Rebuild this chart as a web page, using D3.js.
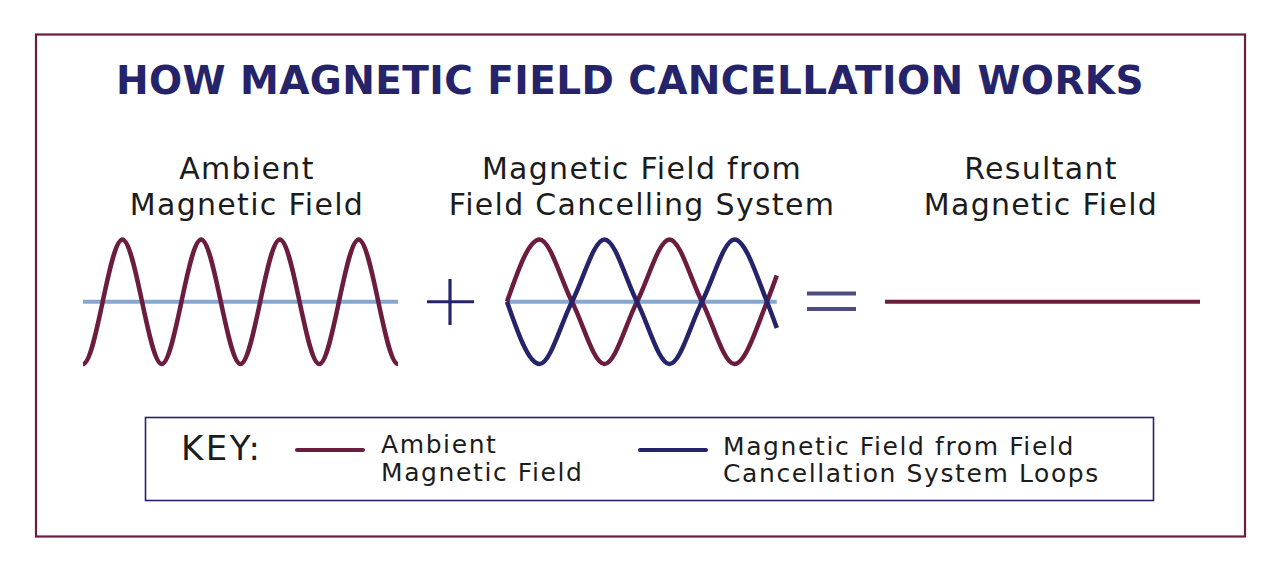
<!DOCTYPE html>
<html>
<head>
<meta charset="utf-8">
<script src="https://cdn.jsdelivr.net/npm/d3@7"></script>
<style>
  html, body { margin: 0; padding: 0; background: #fff; }
  svg { display: block; }
  text { font-family: "DejaVu Sans", "Noto Sans", sans-serif; fill: #1c1c1c; }
</style>
</head>
<body>
<svg id="chart" width="1280" height="579"></svg>
<script>
// colours
const maroon = "#6b1c3f";
const navy = "#25246a";
const baseBlue = "#85a7d0";
const eqGrey = "#4c4c7e";

// panel headings
const panelTitles = [
  ["Ambient", "Magnetic Field"],
  ["Magnetic Field from", "Field Cancelling System"],
  ["Resultant", "Magnetic Field"]
];

// ambient field: phase (cycles) vs. normalised strength
// (half a cycle past each end, clipped off, so the end troughs stay round)
const ambientPhase = [-0.5, 0, 0.5, 1, 1.5, 2, 2.5, 3, 3.5, 4, 4.5];
const ambientValue = [1, -1, 1, -1, 1, -1, 1, -1, 1, -1, 1];

// middle panel: ambient field and the opposing loop field
const cancelPhase = [0, 0.25, 0.5, 0.75, 1, 1.25, 1.5, 1.75, 2, 2.075];
const cancelAmbient = [0, 1, 0, -1, 0, 1, 0, -1, 0, 0.42];
const cancelLoops = [0, -1, 0, 1, 0, -1, 0, 1, 0, -0.42];

// what is left once the two add up
const resultPhase = [0, 1];
const resultValue = [0, 0];

// key entries
const keyLabels = [
  ["Ambient", "Magnetic Field"],
  ["Magnetic Field from Field", "Cancellation System Loops"]
];

const svg = d3.select("#chart");

// outer frame
svg.append("rect")
  .attr("x", 36).attr("y", 34.5)
  .attr("width", 1209).attr("height", 502)
  .attr("fill", "none").attr("stroke", maroon).attr("stroke-width", 2.2);

svg.append("text")
  .attr("x", 630).attr("y", 94)
  .attr("text-anchor", "middle")
  .style("font-size", "39px").style("font-weight", "bold")
  .style("letter-spacing", "0.4px")
  .style("fill", navy)
  .text("HOW MAGNETIC FIELD CANCELLATION WORKS");

const headCx = [247, 642, 1041];
panelTitles.forEach((lines, i) => {
  lines.forEach((l, j) => {
    svg.append("text")
      .attr("x", headCx[i]).attr("y", 179 + j * 35.5)
      .attr("text-anchor", "middle")
      .style("font-size", "30px")
      .style("letter-spacing", "1.3px")
      .text(l);
  });
});

const y = d3.scaleLinear().domain([-1, 1]).range([364, 239.5]);

const zip = (xs, ys) => xs.map((d, i) => [d, ys[i]]);

function drawWave(x, phase, values, color, w, clipId) {
  const line = d3.line()
    .x(d => x(d[0])).y(d => y(d[1]))
    .curve(d3.curveMonotoneX);
  const p = svg.append("path")
    .attr("d", line(zip(phase, values)))
    .attr("fill", "none").attr("stroke", color)
    .attr("stroke-width", w || 4.5);
  if (clipId) p.attr("clip-path", `url(#${clipId})`);
}

function baseline(x, domain) {
  svg.append("line")
    .attr("x1", x(domain[0])).attr("x2", x(domain[1]))
    .attr("y1", y(0)).attr("y2", y(0))
    .attr("stroke", baseBlue).attr("stroke-width", 4);
}

// panel 1
const x1 = d3.scaleLinear().domain([0, 4]).range([83, 398]);
svg.append("clipPath").attr("id", "clip1")
  .append("rect")
  .attr("x", x1(0)).attr("y", 200)
  .attr("width", x1(4) - x1(0)).attr("height", 200);
baseline(x1, [0, 4]);
drawWave(x1, ambientPhase, ambientValue, maroon, 4.5, "clip1");

// plus sign
svg.append("line").attr("x1", 427).attr("x2", 474).attr("y1", y(0)).attr("y2", y(0))
  .attr("stroke", navy).attr("stroke-width", 3.2);
svg.append("line").attr("x1", 450).attr("x2", 450).attr("y1", 279).attr("y2", 325)
  .attr("stroke", navy).attr("stroke-width", 3.2);

// panel 2
const x2 = d3.scaleLinear().domain([0, 2]).range([507, 767]);
baseline(x2, [0, 2.075]);
drawWave(x2, cancelPhase, cancelAmbient, maroon);
drawWave(x2, cancelPhase, cancelLoops, navy);

// equals sign
[293.5, 309].forEach(yy => {
  svg.append("line").attr("x1", 807).attr("x2", 856).attr("y1", yy).attr("y2", yy)
    .attr("stroke", eqGrey).attr("stroke-width", 4);
});

// panel 3
const x3 = d3.scaleLinear().domain([0, 1]).range([885, 1200]);
drawWave(x3, resultPhase, resultValue, maroon, 4);

// key box
svg.append("rect")
  .attr("x", 145.5).attr("y", 417.5)
  .attr("width", 1008).attr("height", 83)
  .attr("fill", "none").attr("stroke", navy).attr("stroke-width", 1.6);

svg.append("text")
  .attr("x", 181).attr("y", 460)
  .style("font-size", "34px")
  .style("letter-spacing", "2.5px")
  .text("KEY:");

const keyColors = [maroon, navy];
const keySwatchX = [297, 640];
const keyTextX = [381, 723];
keyLabels.forEach((lines, i) => {
  svg.append("line")
    .attr("x1", keySwatchX[i]).attr("x2", keySwatchX[i] + 66)
    .attr("y1", 450).attr("y2", 450)
    .attr("stroke", keyColors[i]).attr("stroke-width", 4)
    .attr("stroke-linecap", "round");
  lines.forEach((l, j) => {
    svg.append("text")
      .attr("x", keyTextX[i]).attr("y", 453 + i * 1.5 + j * 27.5)
      .style("font-size", "25px")
      .style("letter-spacing", "1.6px")
      .text(l);
  });
});
</script>
</body>
</html>
